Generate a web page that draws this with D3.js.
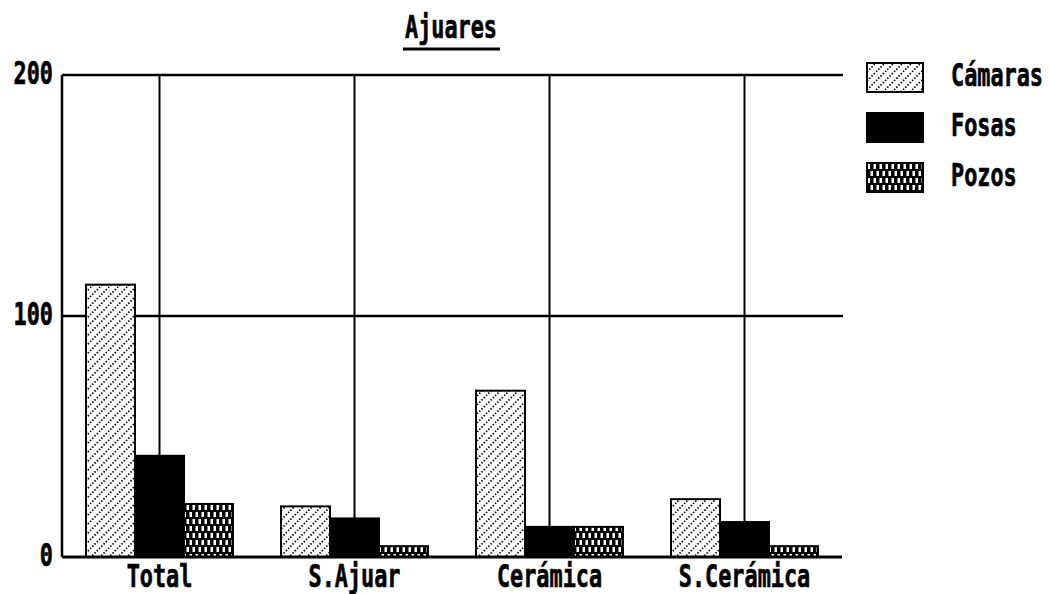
<!DOCTYPE html>
<html>
<head>
<meta charset="utf-8">
<script src="https://cdn.jsdelivr.net/npm/d3@7"></script>
<style>
  body { margin: 0; background: #fff; }
  text { font-family: "DejaVu Sans Mono", monospace; font-weight: bold; fill: #000; stroke: #000; stroke-width: 0.5px; }
</style>
</head>
<body>
<div id="chart"></div>
<script>
var categories = ["Total", "S.Ajuar", "Cerámica", "S.Cerámica"];
var series = ["Cámaras", "Fosas", "Pozos"];
var camaras = [113, 21, 69, 24];
var fosas = [42, 16, 12.5, 14.5];
var pozos = [22, 4.5, 12.5, 4.5];
var yTicks = [0, 100, 200];
var title = "Ajuares";

var width = 1049, height = 594;
var plotLeft = 62, plotRight = 842, plotTop = 75, plotBottom = 557;
var fontSize = 23;
var squash = "scale(0.95,1.35)";

var svg = d3.select("#chart").append("svg")
    .attr("width", width)
    .attr("height", height);

// patterns
var defs = svg.append("defs");
var hatch = defs.append("pattern")
    .attr("id", "hatch")
    .attr("patternUnits", "userSpaceOnUse")
    .attr("width", 9)
    .attr("height", 9);
hatch.append("rect").attr("width", 9).attr("height", 9).attr("fill", "white");
hatch.append("path")
    .attr("d", "M0,9 L9,0 M-2,2 L2,-2 M7,11 L11,7")
    .attr("stroke", "black")
    .attr("stroke-width", 1.7)
    .attr("stroke-dasharray", "1.5,1.7");

var check = defs.append("pattern")
    .attr("id", "check")
    .attr("patternUnits", "userSpaceOnUse")
    .attr("width", 6)
    .attr("height", 14);
check.append("rect").attr("width", 6).attr("height", 14).attr("fill", "black");
check.append("rect").attr("x", 0.5).attr("y", 1).attr("width", 2.5).attr("height", 5).attr("fill", "white");
check.append("rect").attr("x", 3.5).attr("y", 8).attr("width", 2.5).attr("height", 5).attr("fill", "white");

var fills = ["url(#hatch)", "black", "url(#check)"];

var x = d3.scaleBand().domain(categories).range([plotLeft, plotRight]);
var xs = d3.scaleBand().domain(series).range([24, 171]);
var y = d3.scaleLinear().domain([0, 200]).range([plotBottom, plotTop]);

// grid
svg.append("g").selectAll("line")
    .data(yTicks.filter(function(d) { return d > 0; }))
    .enter().append("line")
    .attr("x1", plotLeft).attr("x2", plotRight + 1)
    .attr("y1", function(d) { return y(d); })
    .attr("y2", function(d) { return y(d); })
    .attr("stroke", "black")
    .attr("stroke-width", 2.5);

svg.append("g").selectAll("line")
    .data(categories)
    .enter().append("line")
    .attr("x1", function(d) { return x(d) + x.bandwidth() / 2; })
    .attr("x2", function(d) { return x(d) + x.bandwidth() / 2; })
    .attr("y1", plotTop)
    .attr("y2", plotBottom)
    .attr("stroke", "black")
    .attr("stroke-width", 2);

svg.append("line")
    .attr("x1", plotLeft).attr("x2", plotLeft)
    .attr("y1", plotTop).attr("y2", plotBottom)
    .attr("stroke", "black")
    .attr("stroke-width", 2.5);

// bars
var values = [camaras, fosas, pozos];
var rows = [];
categories.forEach(function(c, i) {
    series.forEach(function(s, j) {
        rows.push({cat: c, ser: s, v: values[j][i], fill: fills[j]});
    });
});

svg.append("g").selectAll("rect")
    .data(rows)
    .enter().append("rect")
    .attr("x", function(d) { return x(d.cat) + xs(d.ser); })
    .attr("y", function(d) { return y(d.v); })
    .attr("width", xs.bandwidth())
    .attr("height", function(d) { return y(0) - y(d.v); })
    .attr("fill", function(d) { return d.fill; })
    .attr("stroke", "black")
    .attr("stroke-width", 2);

// baseline
svg.append("line")
    .attr("x1", plotLeft).attr("x2", plotRight)
    .attr("y1", plotBottom).attr("y2", plotBottom)
    .attr("stroke", "black")
    .attr("stroke-width", 3);

// axes
var yAxis = svg.append("g")
    .attr("transform", "translate(" + (plotLeft - 9) + ",0)")
    .call(d3.axisLeft(y).tickValues(yTicks).tickSize(0).tickPadding(0));
yAxis.select(".domain").remove();
yAxis.selectAll("text")
    .attr("x", 0).attr("y", 0).attr("dy", null)
    .attr("font-size", fontSize)
    .attr("transform", "translate(0,8) " + squash)
    .style("font-family", "'DejaVu Sans Mono', monospace")
    .style("font-weight", "bold");

var xAxis = svg.append("g")
    .attr("transform", "translate(0," + plotBottom + ")")
    .call(d3.axisBottom(x).tickSize(0).tickPadding(0));
xAxis.select(".domain").remove();
xAxis.selectAll("text")
    .attr("x", 0).attr("y", 0).attr("dy", null)
    .attr("font-size", fontSize)
    .attr("transform", "translate(0,30) " + squash)
    .style("font-family", "'DejaVu Sans Mono', monospace")
    .style("font-weight", "bold");

// title
svg.append("text")
    .attr("text-anchor", "middle")
    .attr("font-size", fontSize)
    .attr("transform", "translate(451,38) " + squash)
    .text(title);
svg.append("line")
    .attr("x1", 403).attr("x2", 500)
    .attr("y1", 49).attr("y2", 49)
    .attr("stroke", "black")
    .attr("stroke-width", 3);

// legend
var legend = svg.append("g").selectAll("g")
    .data(series)
    .enter().append("g")
    .attr("transform", function(d, i) { return "translate(867," + (63 + i * 50) + ")"; });
legend.append("rect")
    .attr("width", 56)
    .attr("height", 29)
    .attr("fill", function(d, i) { return fills[i]; })
    .attr("stroke", "black")
    .attr("stroke-width", 2);
legend.append("text")
    .attr("font-size", fontSize)
    .attr("transform", "translate(84,23) " + squash)
    .text(function(d) { return d; });
</script>
</body>
</html>
